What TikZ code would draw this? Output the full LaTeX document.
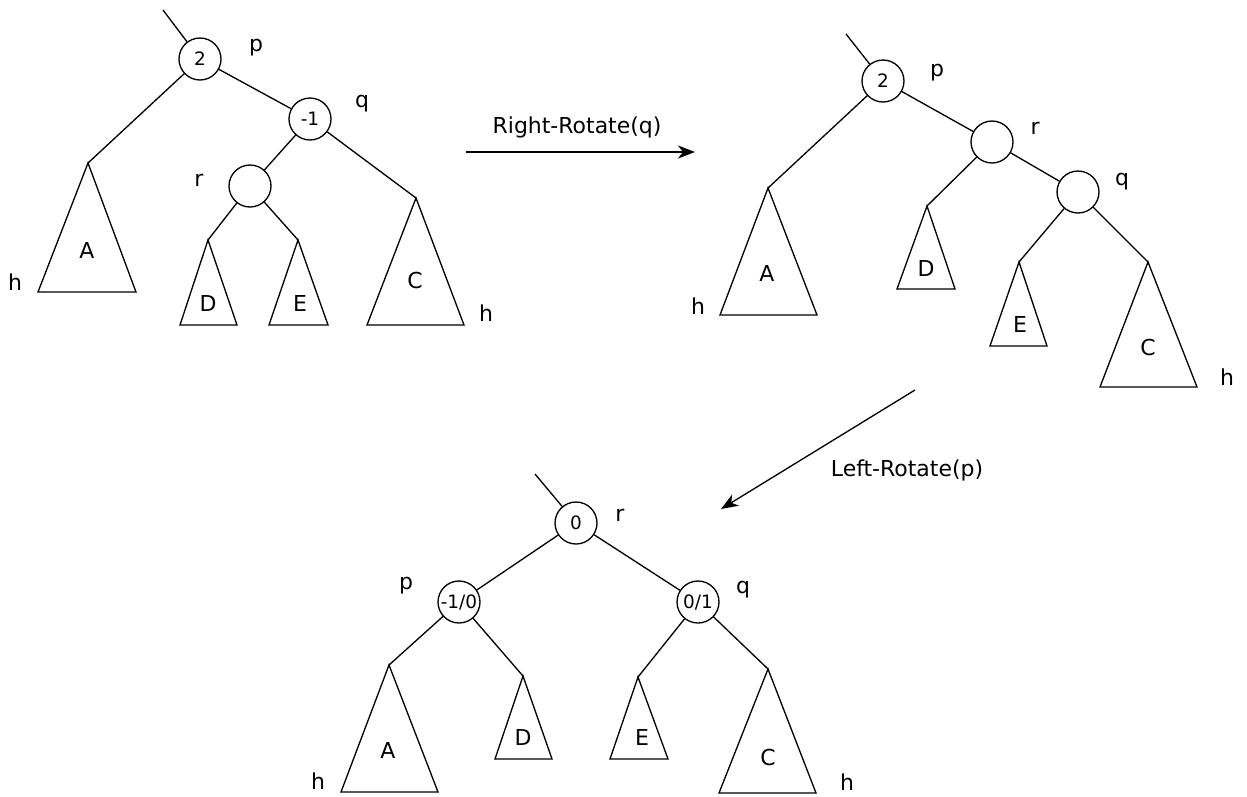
\documentclass[tikz,border=0pt]{standalone}
\usepackage{fontspec}
\setmainfont{DejaVu Sans}
\usetikzlibrary{arrows.meta,positioning}

\begin{document}
\begin{tikzpicture}
		[x=0.02cm,y=-0.02cm,line width=0.75pt,
		bal node/.style={draw,circle,minimum size=0.84cm,inner sep=0pt,font=\fontsize{10.5}{10.5}\selectfont},
		lbl/.style={draw=none,fill=none,inner sep=1pt,font=\fontsize{12.5}{12.5}\selectfont},
		rot/.style={-{Stealth[length=0.34cm,width=0.26cm,inset=0.1cm]}}]
		\useasboundingbox (0,0) rectangle (1247,796);
		
		% first tree
		\node[bal node] (p1) at (200,59) {2};
		\node[bal node] (q1) at (310,119) {-1};
		\node[bal node] (r1) at (250,186) {};
		\coordinate (t1) at (163,10);
		\coordinate (a1) at (88,163);
		\coordinate (d1) at (208,240);
		\coordinate (e1) at (298,240);
		\coordinate (c1) at (416,198);
		
		\node[lbl] (lp1) at (256,48) {p};
		\node[lbl] (lq1) at (362,104) {q};
		\node[lbl] (lr1) at (199,180) {r};
		\node[lbl] (h11) at (15,282) {h};
		\node[lbl] (h12) at (486,313) {h};
		
		\draw (t1) -- (p1);
		\draw (p1) -- (a1);
		\draw (p1) -- (q1);
		\draw (q1) -- (r1);
		\draw (q1) -- (c1);
		\draw (r1) -- (d1);
		\draw (r1) -- (e1);
		
		\draw (a1) -- (38,292) -- (136,292) -- cycle;
		\draw (d1) -- (180,325) -- (237,325) -- cycle;
		\draw (e1) -- (269,325) -- (328,325) -- cycle;
		\draw (c1) -- (367,325) -- (464,325) -- cycle;
		\node[lbl] (sa1) at (87,250) {A};
		\node[lbl] (sd1) at (208,303) {D};
		\node[lbl] (se1) at (300,303) {E};
		\node[lbl] (sc1) at (415,280) {C};
		
		% right rotation
		\coordinate (rr1) at (466,152);
		\coordinate (rr2) at (695,152);
		\draw[rot] (rr1) -- (rr2);
		\node[lbl] (rr) at (577,127) {Right-Rotate(q)};
		
		% second tree
		\node[bal node] (p2) at (883,81) {2};
		\node[bal node] (r2) at (992,142) {};
		\node[bal node] (q2) at (1078,192) {};
		\coordinate (t2) at (846,34);
		\coordinate (a2) at (768,188);
		\coordinate (d2) at (927,206);
		\coordinate (e2) at (1019,262);
		\coordinate (c2) at (1148,262);
		
		\node[lbl] (lp2) at (937,73) {p};
		\node[lbl] (lr2) at (1035,128) {r};
		\node[lbl] (lq2) at (1122,182) {q};
		\node[lbl] (h21) at (698,306) {h};
		\node[lbl] (h22) at (1227,377) {h};
		
		\draw (t2) -- (p2);
		\draw (p2) -- (a2);
		\draw (p2) -- (r2);
		\draw (r2) -- (d2);
		\draw (r2) -- (q2);
		\draw (q2) -- (e2);
		\draw (q2) -- (c2);
		
		\draw (a2) -- (720,315) -- (817,315) -- cycle;
		\draw (d2) -- (897,289) -- (955,289) -- cycle;
		\draw (e2) -- (990,346) -- (1047,346) -- cycle;
		\draw (c2) -- (1100,387) -- (1197,387) -- cycle;
		\node[lbl] (sa2) at (767,273) {A};
		\node[lbl] (sd2) at (926,268) {D};
		\node[lbl] (se2) at (1020,324) {E};
		\node[lbl] (sc2) at (1148,347) {C};
		
		% left rotation
		\coordinate (lr1) at (915,390);
		\coordinate (lr2) at (721,509);
		\draw[rot] (lr1) -- (lr2);
		\node[lbl] (lr) at (907,470) {Left-Rotate(p)};
		
		% third tree
		\node[bal node] (r3) at (576,523) {0};
		\node[bal node] (p3) at (459,602) {-1/0};
		\node[bal node] (q3) at (698,602) {0/1};
		\coordinate (t3) at (535,474);
		\coordinate (a3) at (389,665);
		\coordinate (d3) at (523,676);
		\coordinate (e3) at (638,677);
		\coordinate (c3) at (768,669);
		
		\node[lbl] (lr3) at (620,515) {r};
		\node[lbl] (lp3) at (406,586) {p};
		\node[lbl] (lq3) at (743,590) {q};
		\node[lbl] (h31) at (318,781) {h};
		\node[lbl] (h32) at (847,782) {h};
		
		\draw (t3) -- (r3);
		\draw (r3) -- (p3);
		\draw (r3) -- (q3);
		\draw (p3) -- (a3);
		\draw (p3) -- (d3);
		\draw (q3) -- (e3);
		\draw (q3) -- (c3);
		
		\draw (a3) -- (341,792) -- (438,792) -- cycle;
		\draw (d3) -- (495,759) -- (552,759) -- cycle;
		\draw (e3) -- (610,759) -- (668,759) -- cycle;
		\draw (c3) -- (719,793) -- (816,793) -- cycle;
		\node[lbl] (sa3) at (388,750) {A};
		\node[lbl] (sd3) at (523,737) {D};
		\node[lbl] (se3) at (642,737) {E};
		\node[lbl] (sc3) at (768,757) {C};
		
\end{tikzpicture}
\end{document}
